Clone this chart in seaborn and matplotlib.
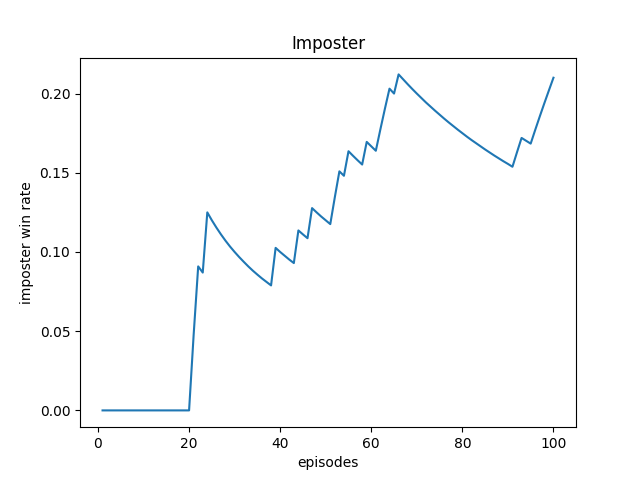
import numpy as np
import pandas as pd
import matplotlib
matplotlib.use("Agg")
import matplotlib.pyplot as plt
import seaborn as sns

# imposter win rate per episode
episodes = list(range(1, 101))
win_rate = [
    0, 0, 0, 0, 0, 0, 0, 0, 0, 0,
    0, 0, 0, 0, 0, 0, 0, 0, 0, 0,
    0.0476, 0.0909, 0.0870, 0.1250, 0.1200, 0.1154, 0.1111, 0.1071, 0.1034, 0.1000,
    0.0968, 0.0938, 0.0909, 0.0882, 0.0857, 0.0833, 0.0811, 0.0789, 0.1026, 0.1000,
    0.0976, 0.0952, 0.0930, 0.1136, 0.1111, 0.1087, 0.1277, 0.1250, 0.1224, 0.1200,
    0.1176, 0.1346, 0.1509, 0.1481, 0.1636, 0.1607, 0.1579, 0.1552, 0.1695, 0.1667,
    0.1639, 0.1774, 0.1905, 0.2031, 0.2000, 0.2121, 0.2090, 0.2059, 0.2029, 0.2000,
    0.1972, 0.1944, 0.1918, 0.1892, 0.1867, 0.1842, 0.1818, 0.1795, 0.1772, 0.1750,
    0.1728, 0.1707, 0.1687, 0.1667, 0.1647, 0.1628, 0.1609, 0.1591, 0.1573, 0.1556,
    0.1538, 0.1630, 0.1720, 0.1702, 0.1684, 0.1771, 0.1856, 0.1939, 0.2020, 0.2100,
]

df = pd.DataFrame({"episodes": episodes, "imposter win rate": win_rate})

fig, ax = plt.subplots(figsize=(6.4, 4.8), dpi=100)
sns.lineplot(data=df, x="episodes", y="imposter win rate", color="#1f77b4", ax=ax)
ax.set_title("Imposter")
ax.set_xticks([0, 20, 40, 60, 80, 100])
ax.set_yticks([0.0, 0.05, 0.10, 0.15, 0.20])

plt.savefig("out.png")
